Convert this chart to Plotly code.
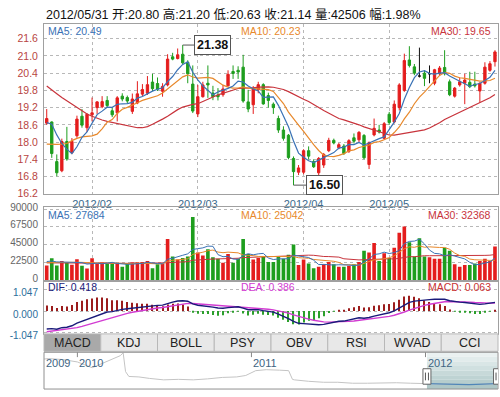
import plotly.graph_objects as go

W, H = 500, 397
def pxx(x): return x / W
def pxy(y): return 1 - y / H

title_text = "2012/05/31 开:20.80 高:21.20 低:20.63 收:21.14 量:42506 幅:1.98%"

# ---------------- data ----------------
opens = [18.66, 18.70, 17.32, 17.00, 18.02, 17.63, 18.22, 18.90, 18.50,
         18.95, 19.20, 19.23, 19.45, 19.09, 19.02, 19.60, 19.55, 19.07, 19.36, 19.67,
         19.70, 20.09, 20.04, 19.77, 19.99, 20.97, 20.91, 21.06, 20.78, 20.02,
         18.98, 19.58, 20.05, 19.71, 19.64, 19.65, 19.96, 20.46, 20.50, 20.61,
         19.40, 19.30, 19.82, 20.00, 19.62, 19.32, 18.82, 18.42, 18.24, 17.43, 16.95,
         16.95, 17.70, 17.32, 16.93, 17.20, 17.70, 18.06, 17.80, 17.86, 17.68,
         18.15, 18.08, 18.23, 17.22, 18.25, 18.42, 18.13,
         18.97, 18.70, 19.20, 19.80, 20.86, 20.62, 20.30, 20.40, 20.38, 20.05,
         20.38, 20.60, 20.10, 19.60, 19.99, 20.05, 20.08, 20.02, 19.78, 20.05, 20.50, 20.80]
highs = [19.15, 18.72, 17.57, 18.12, 18.53, 18.14, 18.92, 19.15, 19.00,
         19.55, 19.43, 19.60, 19.60, 19.20, 19.60, 19.70, 19.62, 19.69, 20.12, 20.02,
         20.30, 20.38, 20.25, 20.05, 21.06, 21.11, 21.26, 21.38, 20.85, 20.67,
         19.99, 20.10, 20.67, 19.96, 19.88, 19.99, 20.50, 20.67, 20.64, 21.04,
         19.82, 19.95, 20.10, 20.05, 19.72, 19.38, 18.92, 18.55, 18.28, 17.50, 17.20,
         17.75, 17.85, 17.40, 17.48, 17.62, 18.15, 18.12, 17.97, 17.93, 18.10,
         18.30, 18.38, 18.28, 18.02, 18.82, 18.60, 18.70,
         19.05, 19.45, 20.05, 21.08, 21.34, 20.72, 21.29, 20.50, 20.67, 20.55,
         20.65, 21.20, 20.18, 19.92, 20.25, 20.38, 20.45, 20.45, 20.08, 20.78, 20.82, 21.20]
lows = [18.60, 17.45, 16.81, 16.95, 17.35, 17.58, 18.15, 18.50, 18.35,
        18.72, 18.98, 19.18, 19.20, 18.87, 18.72, 19.42, 19.35, 18.98, 19.32, 19.60,
        19.64, 19.78, 19.78, 19.58, 19.94, 20.85, 20.88, 20.70, 20.05, 19.01,
        18.87, 19.55, 19.54, 19.46, 19.45, 19.58, 19.94, 20.20, 20.20, 19.37,
        19.04, 18.98, 19.70, 19.30, 19.20, 18.98, 18.32, 18.05, 17.40, 16.50, 16.85,
        16.88, 17.40, 17.10, 16.73, 17.10, 17.65, 17.92, 17.75, 17.55, 17.62,
        17.95, 18.00, 17.40, 17.06, 18.20, 18.30, 18.08,
        18.60, 18.65, 19.10, 19.75, 20.60, 20.33, 20.25, 19.95, 20.05, 19.98,
        20.30, 20.32, 19.60, 19.55, 19.93, 19.32, 19.88, 19.90, 19.37, 20.00, 20.45, 20.63]
closes = [18.82, 17.60, 16.93, 18.02, 17.41, 18.02, 18.80, 18.59, 18.97,
          19.02, 19.40, 19.41, 19.27, 18.95, 19.54, 19.50, 19.43, 19.50, 19.68, 19.83,
          20.00, 19.86, 19.84, 19.94, 20.89, 20.89, 21.04, 20.76, 20.38, 19.08,
          19.58, 19.99, 19.99, 19.58, 19.58, 19.85, 20.36, 20.39, 20.44, 19.43,
          19.15, 19.88, 20.00, 19.33, 19.45, 19.20, 18.42, 18.13, 17.46, 16.97, 17.10,
          17.70, 17.51, 17.14, 17.43, 17.57, 18.06, 17.97, 17.91, 17.60, 18.05,
          18.03, 18.34, 17.45, 17.98, 18.48, 18.35, 18.64,
          18.68, 19.32, 19.99, 20.84, 20.67, 20.40, 20.30, 20.22, 20.38, 20.52,
          20.58, 20.38, 19.65, 19.88, 20.10, 20.16, 19.93, 19.96, 20.05, 20.61, 20.73, 21.14]
volumes = [18500, 27500, 18500, 24000, 22500, 19500, 26500, 18000, 14500, 27500,
           20500, 22500, 21000, 20500, 20500, 17000, 20500, 22500, 22500, 23000,
           24000, 15000, 20000, 21000, 52000, 30000, 26000, 28000, 30000, 80000,
           35000, 31000, 39000, 29000, 27000, 22000, 33000, 22000, 27000, 52000,
           33000, 26000, 28000, 30000, 23000, 23000, 30000, 27000, 32000, 45000,
           19000, 26000, 21000, 15000, 17000, 20000, 23000, 20000, 17000, 17000,
           18000, 20000, 23000, 37000, 35000, 47000, 24000, 34000, 28000, 41000,
           60000, 68000, 48000, 30000, 53000, 30000, 29000, 27000, 27000, 41000,
           37000, 20000, 17000, 19000, 19000, 21000, 24000, 27000, 24000, 42506]

month_labels = ["2012/02", "2012/03", "2012/04", "2012/05"]
month_start_idx = [9, 30, 51, 68]

price_ticks = [16.2, 16.8, 17.4, 18.0, 18.6, 19.2, 19.8, 20.4, 21.0, 21.6]
vol_ticks = [0, 22500, 45000, 67500, 90000]
macd_ticks = [-1.047, 0.0, 1.047]
macd_tick_text = ["-1.047", "0.000", "1.047"]

# moving-average values before enough in-window data exist
ma5_head = [18.68, 18.62, 18.25, 17.95]
ma10_head = [17.93, 17.92, 17.92, 17.93, 17.95, 18.05, 18.13, 18.18, 18.20]
ma30_head = [19.95, 19.80, 19.68, 19.55, 19.43, 19.32, 19.20, 19.08, 18.98, 18.90,
             18.83, 18.77, 18.72, 18.68, 18.64, 18.60, 18.56, 18.53, 18.50, 18.50,
             18.54, 18.62, 18.70, 18.80, 18.90, 19.02, 19.13, 19.22, 19.27]
vma5_head = [23500, 24000, 23000, 23000]
vma10_head = [22000, 22200, 22300, 22500, 22600, 22500, 22600, 22400, 22000]
vma30_head = [21800, 21700, 21600, 21600, 21500, 21400, 21400, 21300, 21200, 21300,
              21300, 21300, 21300, 21200, 21200, 21100, 21100, 21100, 21100, 21100,
              21200, 21100, 21000, 21000, 22000, 22300, 22500, 22700, 23300]
ema12_seed, ema26_seed, dea_seed = 18.05, 19.05, -1.03

price_ma_last = [20.49, 20.23, 19.65]
vol_ma_last = [27684, 25042, 32368]
macd_last = [0.418, 0.386, 0.063]

tab_labels = ["MACD", "KDJ", "BOLL", "PSY", "OBV", "RSI", "WVAD", "CCI"]

nav_dates = ["2009-10-23", "2009-11-01", "2009-12-01", "2010-01-01", "2010-02-01", "2010-03-01",
             "2010-04-01", "2010-04-07", "2010-04-12", "2010-04-19", "2010-05-10", "2010-06-01",
             "2010-07-01", "2010-08-01", "2010-09-01", "2010-10-01", "2010-11-01", "2010-12-01",
             "2010-12-20", "2011-01-10", "2011-02-01", "2011-03-01", "2011-03-20", "2011-03-28",
             "2011-04-01", "2011-05-01", "2011-06-01", "2011-07-01", "2011-08-01", "2011-09-01",
             "2011-10-01", "2011-11-01", "2011-12-01", "2012-01-01", "2012-02-01", "2012-03-01",
             "2012-04-01", "2012-05-01", "2012-05-31"]
nav_vals = [31, 31.5, 30.5, 28, 22, 28,
            34.5, 37.5, 18, 13, 12.5, 11,
            9.5, 10, 9.5, 10.5, 12, 12.5,
            14, 19, 20, 19.5, 19, 10,
            9.5, 8, 7, 7, 6, 6,
            6.5, 6.5, 6, 5.5, 5, 5,
            4.5, 5, 5.5]
nav_years = ["2009", "2010", "2011", "2012"]
nav_year_dates = ["2009-10-23", "2010-01-01", "2011-01-01", "2012-01-01"]
sel_range = ["2012-01-04", "2012-05-31"]

# ---------------- colours ----------------
RED = "#e41d1d"
GREEN = "#1e9e1e"
C_MA5 = "#3a72b5"
C_MA10 = "#e8892c"
C_MA30 = "#c8343c"
C_DIF = "#1a1a7a"
C_DEA = "#d23cd2"
GRID = "#b8b8b8"
FONT = "Liberation Sans, Arial, Noto Sans CJK SC, sans-serif"

# ---------------- derived series ----------------
n = len(closes)
idx = list(range(n))

def moving_avg(vals, k, head):
    out = []
    for i in range(len(vals)):
        out.append(head[i] if i < k - 1 else sum(vals[i - k + 1:i + 1]) / k)
    return out

def ema(vals, k, seed):
    a = 2.0 / (k + 1)
    out, prev = [], seed
    for v in vals:
        prev = prev + a * (v - prev)
        out.append(prev)
    return out

ma5 = moving_avg(closes, 5, ma5_head)
ma10 = moving_avg(closes, 10, ma10_head)
ma30 = moving_avg(closes, 30, ma30_head)
vma5 = moving_avg(volumes, 5, vma5_head)
vma10 = moving_avg(volumes, 10, vma10_head)
vma30 = moving_avg(volumes, 30, vma30_head)
e12 = ema(closes, 12, ema12_seed)
e26 = ema(closes, 26, ema26_seed)
dif = [a - b for a, b in zip(e12, e26)]
dea = ema(dif, 9, dea_seed)
hist = [2 * (a - b) for a, b in zip(dif, dea)]

def direction(i):
    if closes[i] > opens[i]:
        return 1
    if closes[i] < opens[i]:
        return -1
    return 1 if i > 0 and closes[i] >= closes[i - 1] else -1

up = [i for i in idx if closes[i] > opens[i]]
dn = [i for i in idx if closes[i] < opens[i]]
dj = [i for i in idx if closes[i] == opens[i]]
sub = lambda arr, ids: [arr[i] for i in ids]

fig = go.Figure()

for ids, col in ((up, RED), (dn, GREEN), (dj, "#111111")):
    st = dict(line=dict(color=col, width=1), fillcolor=col)
    fig.add_trace(go.Candlestick(x=ids, open=sub(opens, ids), high=sub(highs, ids),
                                 low=sub(lows, ids), close=sub(closes, ids),
                                 increasing=st, decreasing=st, whiskerwidth=0,
                                 xaxis="x", yaxis="y", hoverinfo="skip"))
for s, c in ((ma30, C_MA30), (ma10, C_MA10), (ma5, C_MA5)):
    fig.add_trace(go.Scatter(x=idx, y=s, mode="lines", line=dict(color=c, width=1.2),
                             xaxis="x", yaxis="y", hoverinfo="skip"))

vcol = [RED if direction(i) > 0 else GREEN for i in idx]
fig.add_trace(go.Bar(x=idx, y=volumes, marker=dict(color=vcol, line=dict(width=0)),
                     width=0.72, xaxis="x2", yaxis="y2", hoverinfo="skip"))
for s, c in ((vma30, C_MA30), (vma10, C_MA10), (vma5, C_MA5)):
    fig.add_trace(go.Scatter(x=idx, y=s, mode="lines", line=dict(color=c, width=1),
                             xaxis="x2", yaxis="y2", hoverinfo="skip"))

hcol = ["#9b1c1c" if h >= 0 else "#2ca02c" for h in hist]
fig.add_trace(go.Bar(x=idx, y=hist, marker=dict(color=hcol, line=dict(width=0)),
                     width=0.22, xaxis="x3", yaxis="y3", hoverinfo="skip"))
fig.add_trace(go.Scatter(x=idx, y=dea, mode="lines", line=dict(color=C_DEA, width=1.4),
                         xaxis="x3", yaxis="y3", hoverinfo="skip"))
fig.add_trace(go.Scatter(x=idx, y=dif, mode="lines", line=dict(color=C_DIF, width=1.4),
                         xaxis="x3", yaxis="y3", hoverinfo="skip"))

# navigator
fig.add_trace(go.Scatter(x=nav_dates, y=nav_vals, mode="lines",
                         line=dict(color="#c4c4c4", width=1), xaxis="x4", yaxis="y4",
                         hoverinfo="skip"))
sel_d = [d for d in nav_dates if d >= sel_range[0][:7]]
sel_v = [v for d, v in zip(nav_dates, nav_vals) if d >= sel_range[0][:7]]
fig.add_trace(go.Scatter(x=sel_d, y=sel_v, mode="lines",
                         line=dict(color="#4f86b8", width=1.2), xaxis="x4", yaxis="y4",
                         hoverinfo="skip"))

xdom = [pxx(44), pxx(498)]
xr = [-0.54, 89.6]
common_x = dict(domain=xdom, range=xr, zeroline=False, showline=True, mirror=True,
                linecolor="#a0a0a0", linewidth=1, ticks="", fixedrange=True)
common_y = dict(zeroline=False, showline=True, mirror=True, linecolor="#a0a0a0",
                linewidth=1, ticks="", fixedrange=True, showgrid=True, gridcolor=GRID,
                griddash="dot", gridwidth=1, ticklabelstandoff=3)

fig.update_layout(
    width=W, height=H, margin=dict(l=0, r=0, t=0, b=0),
    paper_bgcolor="white", plot_bgcolor="white", showlegend=False,
    font=dict(family=FONT, size=11, color="#333"),
    boxgap=0.34, barmode="overlay",
    xaxis=dict(**common_x, anchor="y", tickmode="array", tickvals=month_start_idx,
               ticktext=month_labels, showgrid=True, gridcolor=GRID, griddash="dot",
               tickfont=dict(size=11, color="#3b6a8c"), rangeslider=dict(visible=False)),
    yaxis=dict(**common_y, domain=[pxy(194.1), pxy(19)], range=[16.2, 22.10],
               tickmode="array", tickvals=price_ticks,
               ticktext=["%.1f" % t for t in price_ticks],
               tickfont=dict(size=10.5, color="#b8453f")),
    xaxis2=dict(**common_x, anchor="y2", matches="x", tickvals=month_start_idx,
                showticklabels=False, showgrid=True, gridcolor=GRID, griddash="dot"),
    yaxis2=dict(**common_y, domain=[pxy(283.3), pxy(208)], range=[0, 92430],
                tickmode="array", tickvals=vol_ticks, ticktext=[str(v) for v in vol_ticks],
                tickfont=dict(size=10, color="#666"), ticklabelshift=-2),
    xaxis3=dict(**common_x, anchor="y3", matches="x", showticklabels=False, showgrid=False),
    yaxis3=dict(**common_y, domain=[pxy(339), pxy(285)], range=[-1.1, 1.41],
                tickmode="array", tickvals=macd_ticks, ticktext=macd_tick_text,
                tickfont=dict(size=10, color="#2c6e9b"), ticklabelshift=3),
    xaxis4=dict(domain=xdom, type="date", range=["2009-10-23", "2012-06-01"], anchor="y4",
                showticklabels=False, showgrid=False, zeroline=False, showline=False,
                fixedrange=True),
    yaxis4=dict(domain=[pxy(396), pxy(358)], range=[0, 38], visible=False, fixedrange=True),
)

shapes = []
ann = []

# title and indicator labels
ann.append(dict(text=title_text, x=pxx(44), y=pxy(9), xref="paper", yref="paper",
                xanchor="left", yanchor="middle", showarrow=False,
                font=dict(size=12.5, color="#111")))

def add_labels(ypx, items):
    for (txt, col), xpos, anchor in zip(items, [pxx(46), pxx(239), pxx(493)],
                                          ["left", "left", "right"]):
        ann.append(dict(text=txt, x=xpos, y=pxy(ypx), xref="paper", yref="paper",
                        xanchor=anchor, yanchor="middle", showarrow=False,
                        font=dict(size=10.5, color=col)))

add_labels(25.5, [("MA5: %.2f" % price_ma_last[0], C_MA5),
                  ("MA10: %.2f" % price_ma_last[1], C_MA10),
                  ("MA30: %.2f" % price_ma_last[2], C_MA30)])
add_labels(216.5, [("MA5: %d" % vol_ma_last[0], C_MA5),
                   ("MA10: %d" % vol_ma_last[1], C_MA10),
                   ("MA30: %d" % vol_ma_last[2], C_MA30)])
add_labels(291, [("DIF: %.3f" % macd_last[0], C_DIF),
                 ("DEA: %.3f" % macd_last[1], C_DEA),
                 ("MACD: %.3f" % macd_last[2], "#c83232")])

# max / min price callouts
imax = max(idx, key=lambda i: highs[i])
imin = min(idx, key=lambda i: lows[i])
for i, val, off in ((imax, highs[imax], 30), (imin, lows[imin], 31)):
    ann.append(dict(text="<b>%.2f</b>" % val, x=i, y=val, xref="x", yref="y",
                    showarrow=True, arrowhead=0, arrowwidth=1, arrowcolor="#555",
                    ax=off, ay=0, bgcolor="white", bordercolor="#555", borderwidth=1,
                    borderpad=2, font=dict(size=12.5, color="#111")))

# tabs
tab_w = (498 - 44) / len(tab_labels)
for k, lab in enumerate(tab_labels):
    x0 = 44 + k * tab_w
    shapes.append(dict(type="rect", xref="paper", yref="paper", x0=pxx(x0), x1=pxx(x0 + tab_w),
                       y0=pxy(357), y1=pxy(339),
                       fillcolor="#a9a9a9" if k == 0 else "#e8e8e8",
                       line=dict(color="#b8b8b8", width=1), layer="above"))
    ann.append(dict(text=lab, x=pxx(x0 + tab_w / 2), y=pxy(348.5), xref="paper", yref="paper",
                    showarrow=False, xanchor="center", yanchor="middle",
                    font=dict(size=12.5, color="#222")))

# navigator frame, selection, ticks
shapes.append(dict(type="rect", xref="paper", yref="paper", x0=pxx(44), x1=pxx(498),
                   y0=pxy(396), y1=pxy(358), line=dict(color="#909090", width=1),
                   fillcolor="rgba(0,0,0,0)", layer="above"))
bands = ["#eaf1f1", "#e2ecec", "#d9e6e6", "#d0e0e0", "#c7d9d9", "#bed3d3", "#b6cdcd", "#aec7c7"]
nb = len(bands)
for b, colr in enumerate(bands):
    y_top = 358 + b * (38 / nb)
    shapes.append(dict(type="rect", xref="x4", yref="paper", x0=sel_range[0], x1=sel_range[1],
                       y0=pxy(y_top + 38 / nb), y1=pxy(y_top), fillcolor=colr,
                       line=dict(width=0), layer="below"))
for d in nav_year_dates[1:]:
    shapes.append(dict(type="line", xref="x4", yref="paper", x0=d, x1=d,
                       y0=pxy(363), y1=pxy(358), line=dict(color="#888", width=1)))
for lab, d in zip(nav_years, nav_year_dates):
    ann.append(dict(text=lab, x=d, y=pxy(369.5), xref="x4", yref="paper", showarrow=False,
                    xanchor="left", yanchor="middle", xshift=0,
                    font=dict(size=11, color="#3e6482")))
for d in sel_range:
    shapes.append(dict(type="rect", xref="x4", yref="paper", xsizemode="pixel", xanchor=d,
                       x0=-4, x1=4, y0=pxy(391), y1=pxy(375), fillcolor="white",
                       line=dict(color="#666", width=1), layer="above"))
    for dx in (-1.5, 1.5):
        shapes.append(dict(type="line", xref="x4", yref="paper", xsizemode="pixel", xanchor=d,
                           x0=dx, x1=dx, y0=pxy(387), y1=pxy(379),
                           line=dict(color="#555", width=1), layer="above"))

fig.update_layout(shapes=shapes, annotations=ann)
fig.write_html("out.html")
